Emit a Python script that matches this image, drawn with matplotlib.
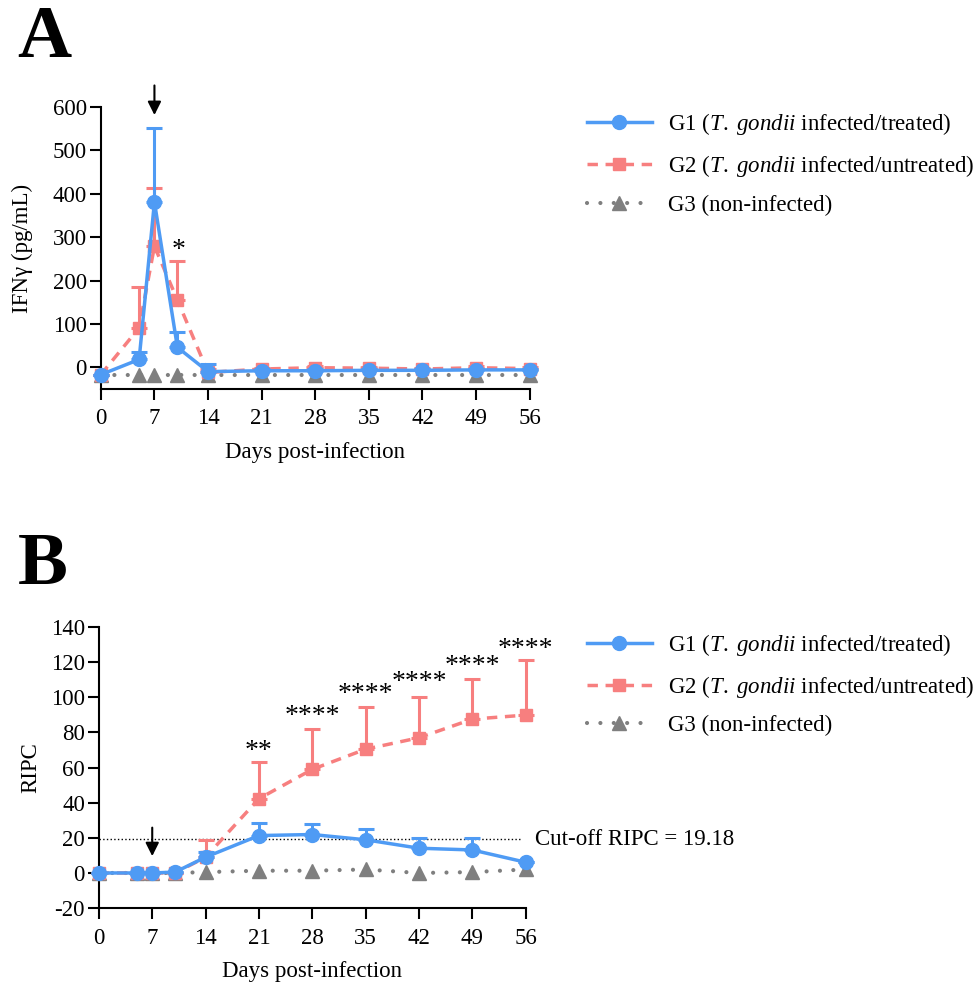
import numpy as np
import matplotlib
matplotlib.use("Agg")
import matplotlib.pyplot as plt
from matplotlib.lines import Line2D

plt.rcParams['font.family'] = ['Liberation Serif', 'DejaVu Serif']
plt.rcParams['mathtext.fontset'] = 'custom'
plt.rcParams['mathtext.rm'] = 'Liberation Serif'
plt.rcParams['mathtext.it'] = 'Liberation Serif:italic'
plt.rcParams['axes.unicode_minus'] = False

# ---------- data ----------
days = [0, 5, 7, 10, 14, 21, 28, 35, 42, 49, 56]
xticks = [0, 7, 14, 21, 28, 35, 42, 49, 56]

# panel A: IFN-gamma (pg/mL)
ifn_g1 = [-17, 18, 381, 46, -10, -8, -8, -7, -7, -6, -6]
ifn_g1_err = [0, 17, 171, 36, 18, 4, 3, 3, 3, 3, 3]
ifn_g2 = [-17, 91, 279, 155, -12, -4, -1, -2, -4, -1, -3]
ifn_g2_err = [0, 94, 135, 90, 8, 3, 3, 3, 3, 3, 3]
ifn_g3 = [-17, -17, -17, -17, -17, -17, -17, -17, -17, -17, -17]
ifn_stars = ["", "", "", "*", "", "", "", "", "", "", ""]
ifn_star_y = [0, 0, 0, 283, 0, 0, 0, 0, 0, 0, 0]

# panel B: RIPC
ripc_g1 = [0, 0, 0, 0.5, 9, 21.3, 21.9, 18.9, 14.1, 13.1, 6.1]
ripc_g1_err = [0, 0, 0, 0, 3, 7, 6, 6, 6, 7, 0]
ripc_g2 = [0, 0, 0, 0, 9, 42.3, 59, 70.5, 77, 87.6, 89.9]
ripc_g2_err = [0, 0, 0, 0, 9.5, 21, 22.7, 24.2, 23.4, 22.7, 31.4]
ripc_g3 = [0, 0, 0, 0, 0.5, 1.3, 1.3, 2, 0, 0.5, 2]
ripc_stars = ["", "", "", "", "", "**", "****", "****", "****", "****", "****"]
ripc_star_y = [0, 0, 0, 0, 0, 73, 92.7, 105, 111.8, 121.3, 130.9]
cutoff = 19.18

labels = [r"G1 ($\it{T.\ gondii}$ infected/treated)",
          r"G2 ($\it{T.\ gondii}$ infected/untreated)",
          "G3 (non-infected)"]

c_g1 = "#4f9bf4"
c_g2 = "#f77f7f"
c_g3 = "#7f7f7f"

fig = plt.figure(figsize=(9.79, 9.86), dpi=100)
axA = fig.add_axes([0.103, 0.6055, 0.438, 0.286])
axB = fig.add_axes([0.101, 0.079, 0.436, 0.285])


def draw_panel(ax, g1, g1e, g2, g2e, g3):
    z = np.zeros(len(days))
    ax.plot(days, g3, color=c_g3, lw=3, linestyle=(0, (0.01, 3.2)),
            dash_capstyle='round', marker='^', ms=9.5, clip_on=False, zorder=3)
    ax.errorbar(days, g2, yerr=[z, g2e], color=c_g2, lw=2.5,
                linestyle=(0, (3, 2.2)), marker='s', ms=9, capsize=6,
                elinewidth=2.2, capthick=2.2, clip_on=False, zorder=4)
    ax.errorbar(days, g1, yerr=[z, g1e], color=c_g1, lw=2.5, linestyle='-',
                marker='o', ms=10, capsize=6, elinewidth=2.2, capthick=2.2,
                clip_on=False, zorder=5)
    ax.set_xlim(0, 56)
    ax.set_xticks(xticks)
    for s in ['top', 'right']:
        ax.spines[s].set_visible(False)
    for s in ['left', 'bottom']:
        ax.spines[s].set_linewidth(1.5)
    ax.tick_params(width=1.5, length=8, labelsize=16.5, pad=2)
    ax.tick_params(axis='x', pad=6)
    ax.set_xlabel("Days post-infection", fontsize=16.5, labelpad=9)


def stars(ax, texts, ys, dx=0.0):
    # asterisks sit high in the glyph box, so nudge them down a little
    for d, s, y in zip(days, texts, ys):
        if s:
            ax.annotate(s, (d + dx, y), xytext=(0, -4.5),
                        textcoords='offset points', fontsize=20,
                        ha='center', va='center', annotation_clip=False)


draw_panel(axA, ifn_g1, ifn_g1_err, ifn_g2, ifn_g2_err, ifn_g3)
axA.set_ylim(-50, 600)
axA.set_yticks(range(0, 601, 100))
axA.set_ylabel("IFNγ (pg/mL)", fontsize=16.5, labelpad=14)
stars(axA, ifn_stars, ifn_star_y, dx=0.2)
axA.annotate("", xy=(7, 575), xytext=(7, 656), annotation_clip=False,
             arrowprops=dict(arrowstyle='-|>', color='black', lw=1.5,
                             mutation_scale=20))

draw_panel(axB, ripc_g1, ripc_g1_err, ripc_g2, ripc_g2_err, ripc_g3)
axB.set_ylim(-20, 140)
axB.set_yticks(range(-20, 141, 20))
axB.set_ylabel("RIPC", fontsize=16.5, labelpad=7)
axB.plot([0, 55.5], [cutoff, cutoff], color='black', lw=1, linestyle=':',
         zorder=2)
axB.text(57.2, cutoff, "Cut-off RIPC = 19.18", fontsize=16.5, va='center',
         ha='left')
stars(axB, ripc_stars, ripc_star_y)
axB.annotate("", xy=(7, 8), xytext=(7, 27.4), annotation_clip=False,
             arrowprops=dict(arrowstyle='-|>', color='black', lw=1.5,
                             mutation_scale=20))

handles = [
    Line2D([], [], color=c_g1, lw=2.5, marker='o', ms=10),
    Line2D([], [], color=c_g2, lw=2.5, linestyle=(0, (3, 2.2)), marker='s', ms=9),
    Line2D([], [], color=c_g3, lw=3, linestyle=(0, (0.01, 3.2)),
           dash_capstyle='round', marker='^', ms=9.5),
]
for ax, top in [(axA, 0.887), (axB, 0.359)]:
    fig.legend(handles, labels, loc='upper left', bbox_to_anchor=(0.600, top),
               frameon=False, fontsize=16.5, handlelength=2.8,
               handletextpad=0.7, labelspacing=0.68, borderpad=0,
               borderaxespad=0)

fig.text(0.018, 0.942, "A", fontsize=54, fontweight='bold', va='baseline')
fig.text(0.018, 0.408, "B", fontsize=54, fontweight='bold', va='baseline')

fig.savefig("out.png", dpi=100)
